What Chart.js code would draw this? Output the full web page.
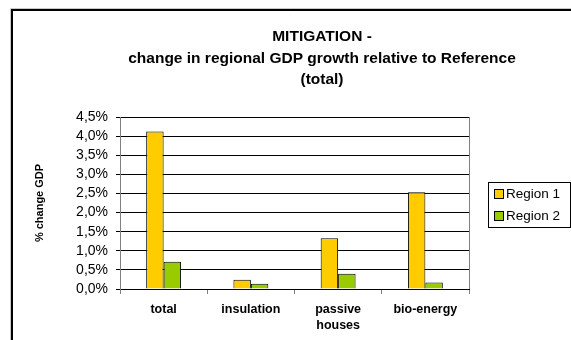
<!DOCTYPE html>
<html>
<head>
<meta charset="utf-8">
<script src="https://cdn.jsdelivr.net/npm/chart.js@4.4.0/dist/chart.umd.min.js"></script>
<style>
  html, body { margin: 0; padding: 0; background: #fff; }
  #wrap { width: 571px; height: 340px; position: relative; }
</style>
</head>
<body>
<div id="wrap"><canvas id="gdpChart" width="571" height="340"></canvas></div>
<script>
// categories and series (values in % change of GDP)
const categories = ['total', 'insulation', ['passive', 'houses'], 'bio-energy'];
const region1 = [4.12, 0.24, 1.33, 2.53];
const region2 = [0.71, 0.14, 0.40, 0.17];
const seriesNames = ['Region 1', 'Region 2'];
const titleLines = ['MITIGATION -', 'change in regional GDP growth relative to Reference', '(total)'];
const yMax = 4.5;
const yStep = 0.5;

const FONT = '"Liberation Sans", Arial, sans-serif';

// frame, title, plot border and legend drawn around the chart area
const excelDecor = {
    id: 'excelDecor',
    beforeDraw(chart) {
        const c = chart.ctx;
        const a = chart.chartArea;
        c.save();
        c.fillStyle = '#fff';
        c.fillRect(0, 0, chart.width, chart.height);
        // outer frame (left and top only visible)
        c.strokeStyle = '#c8c8c8';
        c.lineWidth = 1;
        c.beginPath();
        c.moveTo(10.5, chart.height);
        c.lineTo(10.5, 8.5);
        c.lineTo(chart.width, 8.5);
        c.stroke();
        c.strokeStyle = '#000';
        c.lineWidth = 2;
        c.beginPath();
        c.moveTo(12, chart.height);
        c.lineTo(12, 10);
        c.lineTo(chart.width, 10);
        c.stroke();
        // plot area border
        c.strokeStyle = '#808080';
        c.lineWidth = 1;
        c.strokeRect(a.left + 0.5, a.top + 0.5, a.right - a.left, a.bottom - a.top);
        // title
        c.fillStyle = '#000';
        c.font = 'bold 15.5px ' + FONT;
        c.textAlign = 'center';
        c.textBaseline = 'middle';
        const yy = [37, 59, 80];
        titleLines.forEach((t, i) => c.fillText(t, 322, yy[i]));
        c.restore();
    },
    afterDraw(chart) {
        const c = chart.ctx;
        c.save();
        // legend box
        c.strokeStyle = '#000';
        c.lineWidth = 1;
        c.strokeRect(488.5, 182.5, 82, 45);
        c.font = '13.5px ' + FONT;
        c.textAlign = 'left';
        c.textBaseline = 'middle';
        chart.data.datasets.forEach((ds, i) => {
            const y = 194 + i * 22;
            c.fillStyle = ds.backgroundColor;
            c.fillRect(495, y - 4, 8, 8);
            c.strokeStyle = '#000';
            c.strokeRect(494.5, y - 4.5, 9, 9);
            c.fillStyle = '#000';
            c.fillText(ds.label, 506, y);
        });
        c.restore();
    }
};

new Chart(document.getElementById('gdpChart'), {
    type: 'bar',
    data: {
        labels: categories,
        datasets: [
            {
                label: seriesNames[0],
                data: region1,
                backgroundColor: '#ffcc00',
                borderColor: '#000',
                borderWidth: 1,
                categoryPercentage: 0.4,
                barPercentage: 1.0
            },
            {
                label: seriesNames[1],
                data: region2,
                backgroundColor: '#99cc00',
                borderColor: '#000',
                borderWidth: 1,
                categoryPercentage: 0.4,
                barPercentage: 1.0
            }
        ]
    },
    options: {
        responsive: false,
        animation: false,
        devicePixelRatio: 1,
        layout: { padding: { top: 117, right: 102, bottom: 0, left: 0 } },
        plugins: {
            legend: { display: false },
            title: { display: false },
            tooltip: { enabled: false }
        },
        scales: {
            x: {
                offset: true,
                grid: {
                    offset: true,
                    drawOnChartArea: false,
                    drawTicks: true,
                    tickLength: 5,
                    color: '#808080'
                },
                border: { color: '#000', width: 1 },
                ticks: {
                    color: '#000',
                    font: { family: FONT, size: 12.5, weight: 'bold', lineHeight: 1.25 },
                    padding: 8,
                    maxRotation: 0,
                    autoSkip: false
                },
                afterFit(scale) { scale.height = 51; }
            },
            y: {
                min: 0,
                max: yMax,
                grid: {
                    color: '#000',
                    tickLength: 4,
                    drawTicks: true
                },
                border: { color: '#808080', width: 1 },
                ticks: {
                    stepSize: yStep,
                    autoSkip: false,
                    color: '#000',
                    font: { family: FONT, size: 14 },
                    padding: 8,
                    callback: v => v.toFixed(1).replace('.', ',') + '%'
                },
                title: {
                    display: true,
                    text: '% change GDP',
                    color: '#000',
                    font: { family: FONT, size: 11, weight: 'bold' },
                    padding: { top: 33, bottom: 0 }
                },
                afterFit(scale) { scale.width = 120; }
            }
        }
    },
    plugins: [excelDecor]
});
</script>
</body>
</html>
